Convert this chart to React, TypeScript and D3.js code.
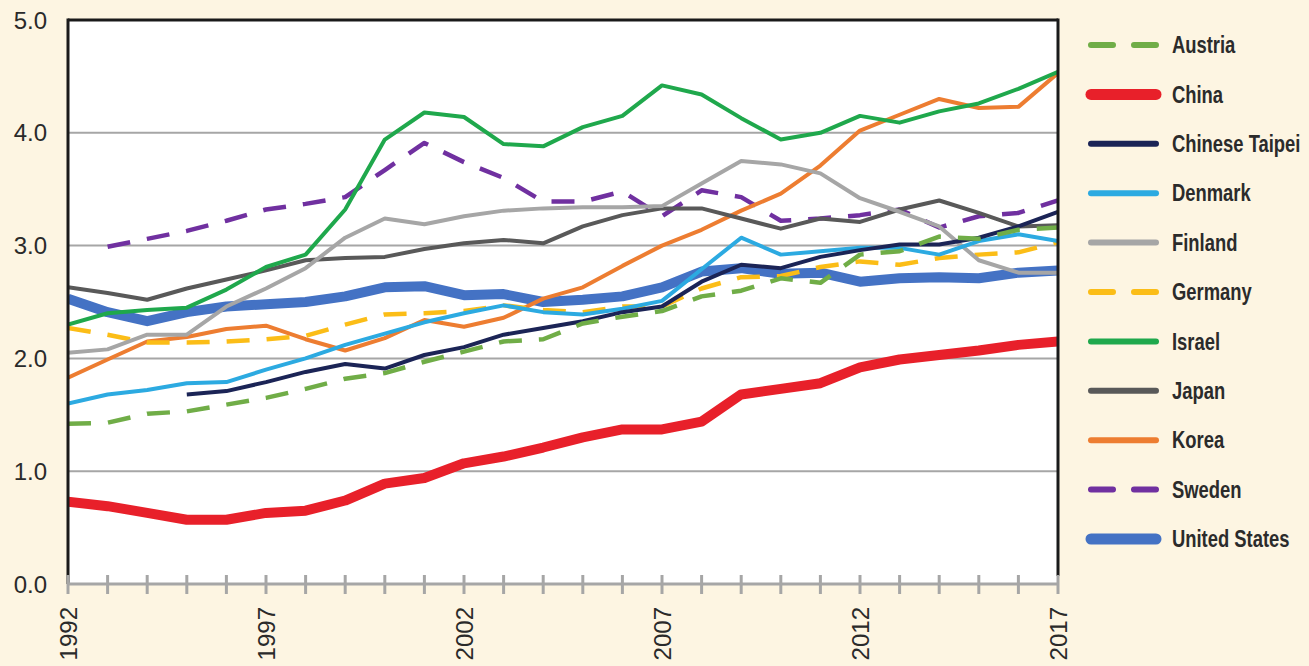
import React from "react";
import * as d3 from "d3";

const years = [1992, 1993, 1994, 1995, 1996, 1997, 1998, 1999, 2000, 2001, 2002, 2003, 2004,
  2005, 2006, 2007, 2008, 2009, 2010, 2011, 2012, 2013, 2014, 2015, 2016, 2017];
const yearLabels = [1992, 1997, 2002, 2007, 2012, 2017];
const valueTicks = [0, 1, 2, 3, 4, 5];

const austria = [1.42, 1.43, 1.51, 1.53, 1.59, 1.65, 1.73, 1.82, 1.87, 1.97, 2.06, 2.15, 2.17, 2.31, 2.37, 2.42, 2.55, 2.60, 2.71, 2.67, 2.92, 2.95, 3.08, 3.06, 3.14, 3.16];
const china = [0.73, 0.69, 0.63, 0.57, 0.57, 0.63, 0.65, 0.74, 0.89, 0.94, 1.07, 1.13, 1.21, 1.30, 1.37, 1.37, 1.44, 1.68, 1.73, 1.78, 1.92, 1.99, 2.03, 2.07, 2.12, 2.15];
const chineseTaipei = [null, null, null, 1.68, 1.71, 1.79, 1.88, 1.95, 1.91, 2.03, 2.10, 2.21, 2.27, 2.33, 2.41, 2.46, 2.68, 2.83, 2.80, 2.90, 2.96, 3.01, 3.01, 3.07, 3.17, 3.30];
const denmark = [1.60, 1.68, 1.72, 1.78, 1.79, 1.90, 2.00, 2.12, 2.22, 2.32, 2.40, 2.47, 2.41, 2.39, 2.44, 2.51, 2.79, 3.07, 2.92, 2.95, 2.98, 2.98, 2.92, 3.04, 3.10, 3.04];
const finland = [2.05, 2.08, 2.21, 2.21, 2.46, 2.62, 2.80, 3.07, 3.24, 3.19, 3.26, 3.31, 3.33, 3.34, 3.34, 3.35, 3.55, 3.75, 3.72, 3.64, 3.42, 3.30, 3.17, 2.87, 2.76, 2.76];
const germany = [2.27, 2.21, 2.14, 2.14, 2.15, 2.17, 2.20, 2.30, 2.39, 2.40, 2.42, 2.47, 2.43, 2.41, 2.46, 2.46, 2.62, 2.72, 2.73, 2.81, 2.86, 2.83, 2.89, 2.92, 2.94, 3.03];
const israel = [2.30, 2.40, 2.43, 2.45, 2.61, 2.81, 2.92, 3.32, 3.94, 4.18, 4.14, 3.90, 3.88, 4.05, 4.15, 4.42, 4.34, 4.13, 3.94, 4.00, 4.15, 4.09, 4.19, 4.26, 4.39, 4.54];
const japan = [2.63, 2.58, 2.52, 2.62, 2.70, 2.78, 2.87, 2.89, 2.90, 2.97, 3.02, 3.05, 3.02, 3.17, 3.27, 3.33, 3.33, 3.24, 3.15, 3.24, 3.21, 3.32, 3.40, 3.29, 3.17, 3.18];
const korea = [1.83, 1.99, 2.15, 2.19, 2.26, 2.29, 2.17, 2.07, 2.18, 2.34, 2.28, 2.36, 2.53, 2.63, 2.82, 3.00, 3.14, 3.31, 3.46, 3.71, 4.02, 4.16, 4.30, 4.22, 4.23, 4.53];
const sweden = [null, 2.99, 3.06, 3.13, 3.22, 3.32, 3.37, 3.43, 3.67, 3.91, 3.74, 3.60, 3.39, 3.39, 3.48, 3.26, 3.49, 3.43, 3.22, 3.24, 3.27, 3.32, 3.16, 3.26, 3.29, 3.40];
const unitedStates = [2.53, 2.41, 2.33, 2.41, 2.46, 2.48, 2.50, 2.55, 2.63, 2.64, 2.56, 2.57, 2.50, 2.52, 2.55, 2.63, 2.77, 2.80, 2.75, 2.76, 2.68, 2.71, 2.72, 2.71, 2.76, 2.78];

type Series = { name: string; values: (number | null)[]; color: string; width: number; dash?: string };

const series: Series[] = [
  { name: "Austria", values: austria, color: "#70ad47", width: 4.5, dash: "23 17" },
  { name: "China", values: china, color: "#e8202a", width: 10 },
  { name: "Chinese Taipei", values: chineseTaipei, color: "#1b2456", width: 4 },
  { name: "Denmark", values: denmark, color: "#2caae1", width: 4 },
  { name: "Finland", values: finland, color: "#a6a6a6", width: 4 },
  { name: "Germany", values: germany, color: "#fbbd17", width: 4.5, dash: "23 17" },
  { name: "Israel", values: israel, color: "#1fa84c", width: 4 },
  { name: "Japan", values: japan, color: "#595959", width: 4 },
  { name: "Korea", values: korea, color: "#ed7d31", width: 4 },
  { name: "Sweden", values: sweden, color: "#7030a0", width: 4.5, dash: "23 17" },
  { name: "United States", values: unitedStates, color: "#4472c4", width: 10 },
];

const W = 1309;
const H = 666;
const left = 68, right = 1058, top = 20, bottom = 584;
const bg = "#fdf5e2";

export default function App() {
  const x = d3.scaleLinear().domain([1992, 2017]).range([left, right]);
  const y = d3.scaleLinear().domain([0, 5]).range([bottom, top]);
  const line = d3
    .line<number | null>()
    .defined((d) => d !== null)
    .x((_, i) => x(years[i]))
    .y((d) => y(d as number));

  const drawOrder = [...series].reverse();

  return (
    <svg
      width={W}
      height={H}
      style={{ position: "absolute", left: 0, top: 0, background: bg }}
      fontFamily="'Liberation Sans', Arial, sans-serif"
    >
      <rect x={0} y={0} width={W} height={H} fill={bg} />
      <defs>
        <clipPath id="plot-clip">
          <rect x={left} y={top} width={right - left} height={bottom - top} />
        </clipPath>
      </defs>
      <rect x={left} y={top} width={right - left} height={bottom - top} fill="#ffffff" />

      {/* horizontal gridlines */}
      {valueTicks.filter((v) => v > 0 && v < 5).map((v) => (
        <line key={v} x1={left} x2={right} y1={y(v)} y2={y(v)} stroke="#a6a6a6" strokeWidth={2} />
      ))}

      {/* series */}
      <g clipPath="url(#plot-clip)">
        {drawOrder.map((s) => (
          <path
            key={s.name}
            d={line(s.values) || ""}
            fill="none"
            stroke={s.color}
            strokeWidth={s.width}
            strokeDasharray={s.dash}
            strokeLinejoin="round"
          />
        ))}
      </g>

      {/* frame */}
      <line x1={left} x2={right} y1={top} y2={top} stroke="#1a1a1a" strokeWidth={3} />
      <line x1={left} x2={left} y1={top - 1.5} y2={bottom} stroke="#1a1a1a" strokeWidth={3} />
      <line x1={right} x2={right} y1={top - 1.5} y2={bottom - 8} stroke="#1a1a1a" strokeWidth={3} />

      {/* x axis */}
      <line x1={left} x2={right} y1={bottom} y2={bottom} stroke="#a6a6a6" strokeWidth={3} />
      {years.map((yr) => (
        <line key={yr} x1={x(yr)} x2={x(yr)} y1={bottom - 9} y2={bottom + 10} stroke="#a6a6a6" strokeWidth={3} />
      ))}
      {yearLabels.map((yr) => (
        <text
          key={yr}
          transform={`translate(${x(yr)},${bottom + 23}) rotate(-90)`}
          textAnchor="end"
          dy="0.36em"
          fontSize={24}
          fill="#2a2a2a"
        >
          {yr}
        </text>
      ))}

      {/* y axis labels */}
      {valueTicks.map((v) => (
        <text key={v} x={47} y={y(v)} dy="0.36em" textAnchor="end" fontSize={24} fill="#2a2a2a">
          {d3.format(".1f")(v)}
        </text>
      ))}

      {/* legend */}
      {series.map((s, i) => {
        const cy = 45 + i * 49.4;
        return (
          <g key={s.name}>
            <line
              x1={1091}
              x2={1156}
              y1={cy}
              y2={cy}
              stroke={s.color}
              strokeWidth={s.width >= 10 ? 11 : 6}
              strokeDasharray={s.dash ? "22 21" : undefined}
              strokeLinecap="round"
            />
            <text
              transform={`translate(1172,${cy}) scale(0.8,1)`}
              dy="0.36em"
              fontSize={23}
              fontWeight="bold"
              fill="#2b2b2b"
            >
              {s.name}
            </text>
          </g>
        );
      })}
    </svg>
  );
}
